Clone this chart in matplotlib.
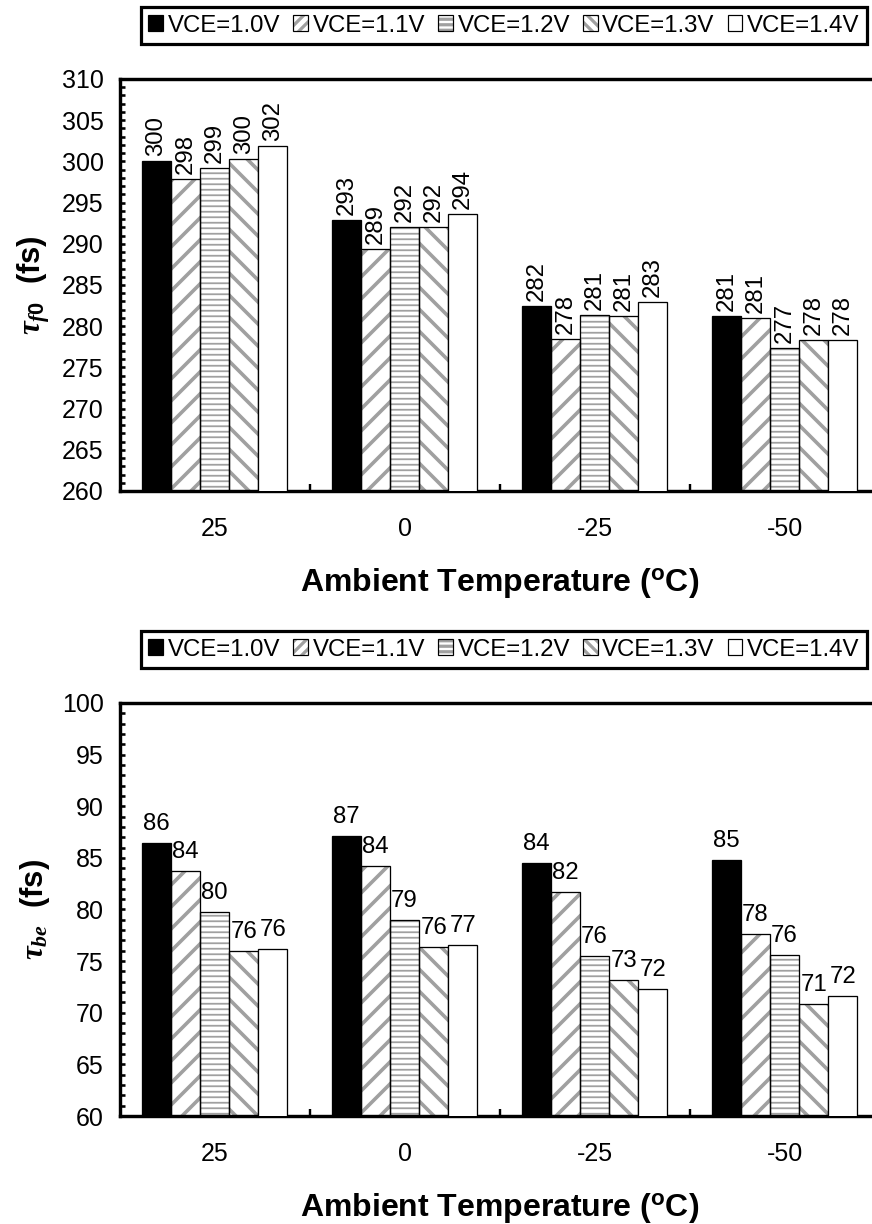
import numpy as np
import matplotlib
matplotlib.use('Agg')
from matplotlib import pyplot as plt
from matplotlib.patches import Patch
from matplotlib.ticker import MultipleLocator, FixedLocator

DPI = 66
W, H = 872, 1224


def pt(px):
    # pixel size -> points at this dpi
    return px * 72.0 / DPI


plt.rcParams['font.family'] = ['Liberation Sans', 'DejaVu Sans']
plt.rcParams['mathtext.fontset'] = 'custom'
plt.rcParams['mathtext.it'] = 'Liberation Serif:italic:bold'
plt.rcParams['mathtext.bf'] = 'Liberation Sans:bold'
plt.rcParams['mathtext.rm'] = 'Liberation Sans:bold'
plt.rcParams['hatch.linewidth'] = pt(3.2)

temps = ['25', '0', '-25', '-50']
series = ['VCE=1.0V', 'VCE=1.1V', 'VCE=1.2V', 'VCE=1.3V', 'VCE=1.4V']

# tau_f0 (fs)
f0_v10 = [300.0, 292.85, 282.4, 281.2]
f0_v11 = [297.9, 289.4, 278.4, 281.0]
f0_v12 = [299.2, 292.0, 281.4, 277.3]
f0_v13 = [300.3, 292.0, 281.2, 278.3]
f0_v14 = [301.9, 293.6, 282.9, 278.3]

# tau_be (fs)
be_v10 = [86.4, 87.1, 84.5, 84.8]
be_v11 = [83.7, 84.2, 81.7, 77.6]
be_v12 = [79.8, 79.0, 75.5, 75.6]
be_v13 = [76.0, 76.4, 73.2, 70.8]
be_v14 = [76.2, 76.6, 72.3, 71.6]

fills = ['black', 'white', 'white', 'white', 'white']
hatches = [None, '/', '--', '\\', None]
leg_hatches = [None, '//', '--', '\\\\', None]
hatch_lw = [0, 3.6, 1.8, 3.6, 0]
leg_hatch_lw = [0, 1.8, 1.2, 1.8, 0]
GRAY = '#a0a0a0'
BAR_W = 0.153


def set_hlw(patch, px):
    try:
        patch.set_hatch_linewidth(pt(px))
    except AttributeError:
        pass


def draw(ax, data, ylim, ylabel, rotate):
    x = np.arange(len(temps))
    handles = []
    for i, vals in enumerate(data):
        pos = x + (i - 2) * BAR_W
        if hatches[i]:
            hb = ax.bar(pos, vals, BAR_W, color='white', edgecolor=GRAY,
                        hatch=hatches[i], linewidth=0, zorder=2)
            for r in hb:
                set_hlw(r, hatch_lw[i])
            ax.bar(pos, vals, BAR_W, color='none', edgecolor='black',
                   linewidth=pt(1.3), zorder=3)
            hp = Patch(facecolor='white', edgecolor=GRAY, hatch=leg_hatches[i],
                       linewidth=0)
            set_hlw(hp, leg_hatch_lw[i])
            h = (hp, Patch(facecolor='none', edgecolor='black', linewidth=pt(1.2)))
        else:
            ax.bar(pos, vals, BAR_W, color=fills[i], edgecolor='black',
                   linewidth=pt(1.3), zorder=3)
            h = Patch(facecolor=fills[i], edgecolor='black', linewidth=pt(1.2))
        handles.append(h)
        for p, v in zip(pos, vals):
            ax.annotate(f'{v:.0f}', (p, v), xytext=(0, pt(5 if rotate else 8)),
                        textcoords='offset points', ha='center', va='bottom',
                        rotation=90 if rotate else 0, fontsize=pt(24))

    ax.set_xlim(-0.5, 3.5)
    ax.set_ylim(*ylim)
    ax.yaxis.set_major_locator(MultipleLocator(5))
    ax.yaxis.set_minor_locator(MultipleLocator(1))
    ax.xaxis.set_major_locator(FixedLocator(x))
    ax.xaxis.set_minor_locator(FixedLocator(x[:-1] + 0.5))
    ax.set_xticklabels(temps)
    ax.tick_params(axis='y', which='both', direction='in', length=pt(4.5),
                   width=pt(2.6), labelsize=pt(25), pad=pt(16))
    ax.tick_params(axis='x', which='both', direction='in', length=pt(7),
                   width=pt(2.4), labelsize=pt(25), pad=pt(26))
    for s in ['left', 'top', 'bottom']:
        ax.spines[s].set_linewidth(pt(3.4))
    ax.spines['right'].set_visible(False)

    ax.set_xlabel('Ambient Temperature ($^{\\mathbf{o}}$C)', fontsize=pt(32),
                  fontweight='bold', labelpad=pt(25))
    ax.set_ylabel(ylabel, fontsize=pt(31), fontweight='bold')
    ax.yaxis.set_label_coords((52 - 119.6) / 760.0, 0.5)
    return handles


fig = plt.figure(figsize=(W / DPI, H / DPI), dpi=DPI)

ax_top = fig.add_axes([119.6 / W, 1 - 491 / H, 760 / W, 412 / H])
ax_bot = fig.add_axes([119.6 / W, 1 - 1116 / H, 760 / W, 413 / H])

h1 = draw(ax_top, [f0_v10, f0_v11, f0_v12, f0_v13, f0_v14], (260, 310),
          r'$\tau_{f0}$  (fs)', True)
h2 = draw(ax_bot, [be_v10, be_v11, be_v12, be_v13, be_v14], (60, 100),
          r'$\tau_{be}$  (fs)', False)

for handles, cy in [(h1, 25.5), (h2, 649.5)]:
    leg = fig.legend(handles, series, loc='center',
                     bbox_to_anchor=(504 / W, 1 - cy / H),
                     bbox_transform=fig.transFigure, ncol=5, frameon=True,
                     fancybox=False, edgecolor='black', framealpha=1,
                     handlelength=0.6, handleheight=0.6, handletextpad=0.2,
                     columnspacing=0.55, borderpad=0.3, borderaxespad=0,
                     fontsize=pt(24))
    leg.get_frame().set_linewidth(pt(3.2))

fig.savefig('out.png', dpi=DPI)
